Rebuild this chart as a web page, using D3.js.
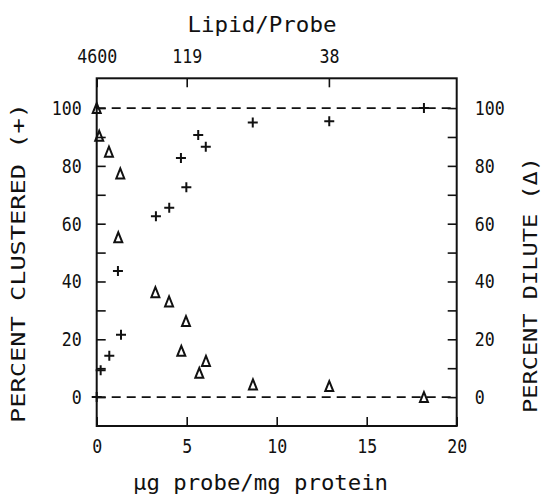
<!DOCTYPE html>
<html>
<head>
<meta charset="utf-8">
<script src="https://cdn.jsdelivr.net/npm/d3@7"></script>
<style>
  html, body { margin: 0; padding: 0; background: #fff; }
  svg { display: block; }
  text { font-family: "DejaVu Sans Mono", monospace; fill: #111; }
</style>
</head>
<body>
<svg id="chart" width="544" height="501"></svg>
<script>
// Probe dose (µg probe / mg protein) and fraction of probe in each state
const clusteredDose = [0, 0.22, 0.70, 1.35, 1.18, 3.29, 4.03, 4.98, 4.68, 6.06, 5.64, 8.67, 12.92, 18.18];
const clusteredPct  = [0, 9.3, 14.3, 21.6, 43.6, 62.6, 65.5, 72.6, 82.7, 86.6, 90.7, 95.0, 95.4, 100];

const diluteDose = [0, 0.14, 0.68, 1.31, 1.20, 3.26, 4.02, 4.96, 4.70, 6.07, 5.70, 8.68, 12.92, 18.18];
const dilutePct  = [100, 90.4, 84.9, 77.4, 55.3, 36.3, 33.1, 26.3, 16.0, 12.5, 8.4, 4.4, 3.8, 0];

// Lipid/probe ratios marked along the top edge at the matching dose
const ratioDose   = [0, 5, 12.9];
const ratioLabels = ["4600", "119", "38"];

// Axis ticks
const doseTicks    = [0, 5, 10, 15, 20];
const percentTicks = [0, 10, 20, 30, 40, 50, 60, 70, 80, 90, 100];
const referenceLevels = [0, 100];

const margin = { top: 78.3, right: 87.3, bottom: 75, left: 96.7 };
const W = 544, H = 501;
const iw = W - margin.left - margin.right;
const ih = H - margin.top - margin.bottom;

const svg = d3.select("#chart");
const g = svg.append("g").attr("transform", `translate(${margin.left},${margin.top})`);

const x = d3.scaleLinear().domain([0, 20]).range([0, iw]);
const y = d3.scaleLinear().domain([-10, 110.3]).range([ih, 0]);

const TICK = 9;
const CHAR_W = 10;     // advance per character of tick labels
const fmtEvery20 = d => (d % 20 === 0 ? String(d) : "");

function styleAxis(sel) {
  sel.select(".domain").remove();
  sel.selectAll(".tick line").attr("stroke", "#111").attr("stroke-width", 1.6);
  sel.selectAll(".tick text")
    .attr("font-family", "DejaVu Sans Mono, monospace")
    .attr("font-size", 20)
    .attr("fill", "#111")
    .each(function () {
      const t = d3.select(this).text();
      if (t.length) d3.select(this).attr("textLength", t.length * CHAR_W).attr("lengthAdjust", "spacingAndGlyphs");
    });
}

// Bottom axis (dose)
g.append("g")
  .attr("transform", `translate(0,${ih})`)
  .call(d3.axisBottom(x).tickValues(doseTicks).tickSize(-TICK).tickPadding(13).tickFormat(d3.format("d")))
  .call(styleAxis);

// Top axis (lipid/probe)
g.append("g")
  .call(d3.axisTop(x).tickValues(ratioDose).tickSize(-TICK).tickPadding(15)
    .tickFormat((d, i) => ratioLabels[i]))
  .call(styleAxis);

// Left axis (percent clustered)
g.append("g")
  .call(d3.axisLeft(y).tickValues(percentTicks).tickSize(-TICK).tickPadding(15).tickFormat(fmtEvery20))
  .call(styleAxis);

// Right axis (percent dilute)
g.append("g")
  .attr("transform", `translate(${iw},0)`)
  .call(d3.axisRight(y).tickValues(percentTicks).tickSize(-TICK).tickPadding(18).tickFormat(fmtEvery20))
  .call(styleAxis);

// Frame
g.append("rect")
  .attr("x", 0).attr("y", 0).attr("width", iw).attr("height", ih)
  .attr("fill", "none").attr("stroke", "#111").attr("stroke-width", 2);

// Dashed reference lines at 0 % and 100 %
g.selectAll("line.ref").data(referenceLevels).join("line")
  .attr("class", "ref")
  .attr("x1", 0).attr("x2", iw)
  .attr("y1", d => y(d)).attr("y2", d => y(d))
  .attr("stroke", "#111").attr("stroke-width", 1.8)
  .attr("stroke-dasharray", "9,6");

// Clustered probe: plus signs
const clustered = clusteredDose.map((d, i) => ({ dose: d, pct: clusteredPct[i] }));
const plus = "M-5,0H5M0,-5V5";
g.selectAll("path.plus").data(clustered).join("path")
  .attr("class", "plus")
  .attr("transform", d => `translate(${x(d.dose)},${y(d.pct)})`)
  .attr("d", plus)
  .attr("fill", "none").attr("stroke", "#111").attr("stroke-width", 2);

// Dilute probe: open triangles
const dilute = diluteDose.map((d, i) => ({ dose: d, pct: dilutePct[i] }));
const tri = "M0,-5L4,5H-4Z";
g.selectAll("path.tri").data(dilute).join("path")
  .attr("class", "tri")
  .attr("transform", d => `translate(${x(d.dose)},${y(d.pct)})`)
  .attr("d", tri)
  .attr("fill", "none").attr("stroke", "#111").attr("stroke-width", 2)
  .attr("stroke-linejoin", "miter");

// Titles
svg.append("text")
  .attr("x", 262).attr("y", 32)
  .attr("text-anchor", "middle").attr("font-size", 21)
  .attr("textLength", 149).attr("lengthAdjust", "spacingAndGlyphs")
  .text("Lipid/Probe");

svg.append("text")
  .attr("x", 260.5).attr("y", 490)
  .attr("text-anchor", "middle").attr("font-size", 21)
  .attr("textLength", 255).attr("lengthAdjust", "spacingAndGlyphs")
  .text("µg probe/mg protein");

svg.append("text")
  .attr("transform", "translate(25,263) rotate(-90)")
  .attr("text-anchor", "middle").attr("font-size", 19)
  .attr("textLength", 320).attr("lengthAdjust", "spacingAndGlyphs")
  .text("PERCENT CLUSTERED (+)");

svg.append("text")
  .attr("transform", "translate(537,285) rotate(-90)")
  .attr("text-anchor", "middle").attr("font-size", 19)
  .attr("textLength", 256).attr("lengthAdjust", "spacingAndGlyphs")
  .text("PERCENT DILUTE (Δ)");
</script>
</body>
</html>
